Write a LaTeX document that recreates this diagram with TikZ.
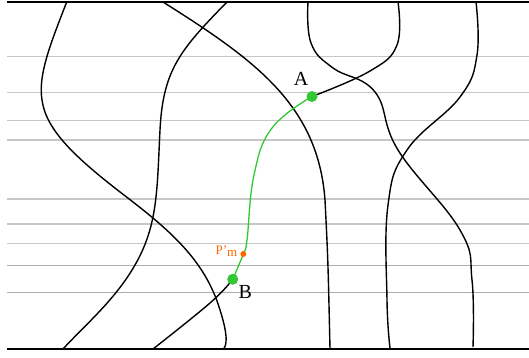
\documentclass[tikz,border=0pt]{standalone}
\usepackage{fontspec}
\setmainfont{Liberation Serif}
\usetikzlibrary{backgrounds}
\definecolor{pathgreen}{RGB}{51,200,51}
\definecolor{pointorange}{RGB}{255,102,0}
\begin{document}
\begin{tikzpicture}[x=1pt, y=-1pt,
edgeline/.style={black, line width=2pt},
levelline/.style={black!22, line width=1.1pt},
darklevel/.style={black!32, line width=1.1pt},
strand/.style={black, line width=1.4pt},
geodesic/.style={pathgreen, line width=1.3pt},
endpoint/.style={circle, fill=pathgreen, inner sep=0pt, minimum size=11pt},
midpoint/.style={circle, fill=pointorange, inner sep=0pt, minimum size=6pt},
]
    \useasboundingbox (0,0) rectangle (529,358);
    \node[endpoint] (A) at (312,96.5) {};
    \node[endpoint] (B) at (232.7,279.3) {};
    \node[midpoint] (Pm) at (243.3,254) {};
    \node[anchor=base] (labelA) at (301,86) {\fontsize{20}{20}\selectfont A};
    \node[anchor=base west, inner sep=0pt] (labelB) at (238.5,298.5) {\fontsize{20}{20}\selectfont B};
    \node[anchor=base east, text=pointorange, inner sep=0pt] (labelPm) at (237.5,254) {\fontsize{13}{13}\selectfont P'\raisebox{-0.35ex}{m}};
    \begin{scope}[on background layer]
    \foreach \ly in {56.7, 92.7, 120.7, 140, 199, 224, 243.3}
        \draw[levelline] (7,\ly) -- (529,\ly);
    \foreach \ly in {265.3, 292.3}
        \draw[darklevel] (7,\ly) -- (529,\ly);
    \draw[edgeline] (7,2.3) -- (529,2.3);
    \draw[edgeline] (7,349.3) -- (529,349.3);
    \draw[strand] (66.7,2) .. controls (50,45) and (38,75) .. (42,100)
        .. controls (46,130) and (75,157) .. (120,192)
        .. controls (170,230) and (205,260) .. (220,310)
        .. controls (228,335) and (227,345) .. (223.5,349);
    \draw[strand] (227,2) .. controls (180,50) and (163,70) .. (160,130)
        .. controls (157,190) and (158,225) .. (135,265)
        .. controls (115,300) and (85,325) .. (63,349);
    \draw[strand] (163,2) .. controls (255,60) and (318,105) .. (325,200)
        .. controls (328,260) .. (330,349);
    \draw[strand] plot[smooth, tension=0.7] coordinates {(308,2) (311,43) (333,68) (375,92) (398,150) (460,230) (472,280) (473,347)};
    \draw[strand] plot[smooth, tension=0.7] coordinates {(476,2) (477,55) (460,97) (407,150) (388,205) (387,300) (390,348)};
    \draw[strand] plot[smooth, tension=0.7] coordinates {(398,2) (397,45) (370,71) (A)};
    \draw[strand] plot[smooth, tension=0.7] coordinates {(B) (210,303) (153,349)};
    \draw[geodesic] plot[smooth, tension=0.7] coordinates {(A) (272,128) (254,175) (247,240) (Pm) (B)};
    \end{scope}
\end{tikzpicture}
\end{document}
